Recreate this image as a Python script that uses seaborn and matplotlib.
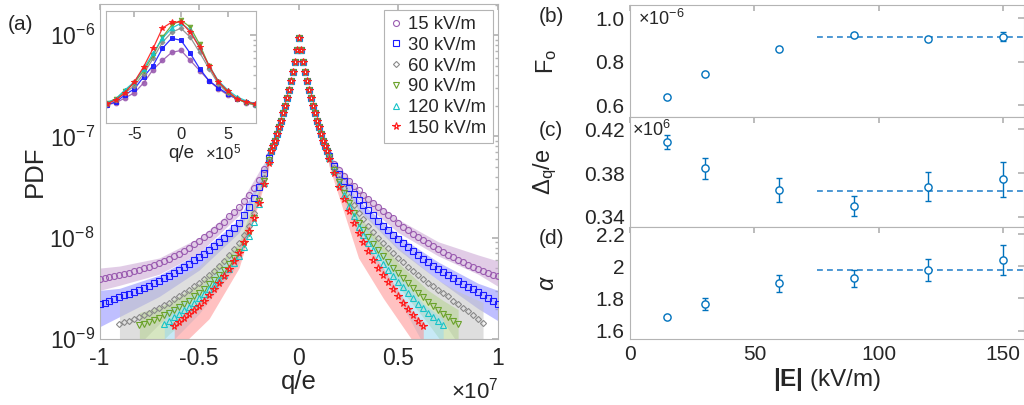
import numpy as np
import matplotlib
matplotlib.use("Agg")
import matplotlib.pyplot as plt
import seaborn as sns
from matplotlib.ticker import FuncFormatter, LogLocator, NullFormatter

# ---------------- data (log10 of PDF) ----------------
# grid of |q| in units of 1e6: fine core near the peak, coarser tails
q_core = np.arange(0, 1.45, 0.1)
q_tail = np.arange(1.5, 10.01, 0.25)

core_log = [-6.03, -6.15, -6.26, -6.36, -6.45, -6.54, -6.62, -6.70, -6.77, -6.85,
            -6.91, -6.98, -7.04, -7.09, -7.14]

# tails from |q| = 1.5e6 outward, R = positive q, L = negative q
pdf15_R = [-7.18, -7.27, -7.33, -7.39, -7.44, -7.49, -7.53, -7.58, -7.62, -7.66, -7.70, -7.74,
           -7.78, -7.81, -7.85, -7.89, -7.92, -7.96, -7.99, -8.02, -8.05, -8.08, -8.11, -8.14,
           -8.17, -8.19, -8.22, -8.24, -8.27, -8.29, -8.31, -8.33, -8.35, -8.37, -8.38]
pdf15_L = [-7.19, -7.32, -7.43, -7.51, -7.58, -7.64, -7.70, -7.75, -7.79, -7.84, -7.88, -7.92,
           -7.96, -7.99, -8.03, -8.06, -8.10, -8.13, -8.16, -8.18, -8.21, -8.23, -8.25, -8.27,
           -8.29, -8.30, -8.32, -8.33, -8.35, -8.36, -8.37, -8.38, -8.39, -8.40, -8.41]
pdf30_R = [-7.19, -7.29, -7.37, -7.44, -7.51, -7.57, -7.63, -7.68, -7.73, -7.78, -7.83, -7.88,
           -7.92, -7.97, -8.01, -8.05, -8.09, -8.13, -8.17, -8.21, -8.24, -8.28, -8.31, -8.34,
           -8.37, -8.40, -8.43, -8.46, -8.49, -8.51, -8.54, -8.57, -8.60, -8.62, -8.65]
pdf30_L = [-7.21, -7.36, -7.50, -7.61, -7.70, -7.78, -7.85, -7.90, -7.95, -8.00, -8.04, -8.08,
           -8.12, -8.16, -8.19, -8.22, -8.26, -8.29, -8.32, -8.35, -8.38, -8.40, -8.43, -8.45,
           -8.48, -8.50, -8.52, -8.54, -8.56, -8.57, -8.59, -8.61, -8.62, -8.64, -8.65]
pdf60_R = [-7.20, -7.31, -7.42, -7.51, -7.60, -7.68, -7.76, -7.82, -7.88, -7.94, -8.00, -8.05,
           -8.10, -8.15, -8.20, -8.24, -8.29, -8.33, -8.37, -8.41, -8.45, -8.48, -8.52, -8.55,
           -8.58, -8.62, -8.65, -8.69, -8.72, -8.76, -8.80, -8.84]
pdf60_L = [-7.22, -7.41, -7.62, -7.76, -7.88, -7.97, -8.05, -8.11, -8.17, -8.23, -8.28, -8.33,
           -8.37, -8.41, -8.45, -8.48, -8.52, -8.55, -8.58, -8.61, -8.64, -8.66, -8.69, -8.71,
           -8.74, -8.76, -8.78, -8.80, -8.82, -8.83, -8.85]
pdf90_R = [-7.20, -7.33, -7.45, -7.56, -7.66, -7.76, -7.85, -7.92, -7.99, -8.06, -8.12, -8.18,
           -8.24, -8.30, -8.35, -8.40, -8.45, -8.50, -8.55, -8.59, -8.63, -8.67, -8.71, -8.75,
           -8.78, -8.82, -8.85]
pdf90_L = [-7.23, -7.44, -7.64, -7.81, -7.95, -8.06, -8.14, -8.20, -8.26, -8.32, -8.37, -8.42,
           -8.46, -8.51, -8.55, -8.58, -8.62, -8.65, -8.68, -8.71, -8.74, -8.76, -8.79, -8.81,
           -8.83, -8.85, -8.86]
pdf120_R = [-7.21, -7.34, -7.47, -7.58, -7.69, -7.79, -7.89, -7.97, -8.05, -8.12, -8.19, -8.26,
            -8.32, -8.38, -8.44, -8.49, -8.55, -8.60, -8.65, -8.69, -8.74, -8.78, -8.82, -8.86]
pdf120_L = [-7.24, -7.46, -7.67, -7.84, -7.98, -8.09, -8.18, -8.25, -8.31, -8.37, -8.42, -8.47,
            -8.51, -8.56, -8.60, -8.64, -8.68, -8.71, -8.75, -8.78, -8.82, -8.85]
pdf150_R = [-7.22, -7.36, -7.50, -7.62, -7.74, -7.85, -7.95, -8.04, -8.13, -8.22, -8.30, -8.37,
            -8.44, -8.51, -8.58, -8.64, -8.70, -8.76, -8.82, -8.87]
pdf150_L = [-7.26, -7.47, -7.66, -7.81, -7.93, -8.04, -8.15, -8.23, -8.31, -8.38, -8.45, -8.51,
            -8.57, -8.62, -8.67, -8.71, -8.75, -8.79, -8.83, -8.87]

# shaded bands (|q| in 1e6, log10 lower / upper)
band15_q = [1.5, 3, 5, 7, 9, 10]
band15_R_lo = [-7.22, -7.62, -7.95, -8.18, -8.36, -8.48]
band15_R_hi = [-7.17, -7.52, -7.82, -8.04, -8.17, -8.23]
band15_L_lo = [-7.23, -7.78, -8.15, -8.36, -8.47, -8.52]
band15_L_hi = [-7.18, -7.68, -8.00, -8.20, -8.28, -8.30]
band30_q = [1.5, 3, 5, 7, 9, 10]
band30_R_lo = [-7.24, -7.73, -8.12, -8.42, -8.70, -8.82]
band30_R_hi = [-7.19, -7.63, -7.98, -8.24, -8.45, -8.52]
band30_L_lo = [-7.26, -7.95, -8.32, -8.58, -8.78, -8.88]
band30_L_hi = [-7.21, -7.82, -8.15, -8.37, -8.50, -8.52]
band60_R_q = [1.5, 3, 5, 7, 8, 9.25]
band60_R_lo = [-7.25, -7.85, -8.35, -8.75, -9.05, -9.6]
band60_R_hi = [-7.20, -7.70, -8.10, -8.42, -8.53, -8.64]
band60_L_q = [1.5, 3, 5, 7, 8, 9]
band60_L_lo = [-7.27, -8.10, -8.55, -8.85, -9.05, -9.6]
band60_L_hi = [-7.22, -7.88, -8.28, -8.48, -8.55, -8.63]
band90_q = [1.5, 3, 5, 6.5, 7.25, 8]
band90_R_lo = [-7.25, -7.92, -8.48, -8.85, -9.05, -9.6]
band90_R_hi = [-7.20, -7.78, -8.25, -8.52, -8.62, -8.71]
band90_L_lo = [-7.28, -8.20, -8.70, -8.95, -9.10, -9.6]
band90_L_hi = [-7.23, -8.05, -8.45, -8.64, -8.70, -8.74]
band120_R_q = [1.5, 3, 5, 6.25, 7.25]
band120_R_lo = [-7.26, -7.98, -8.60, -9.05, -9.6]
band120_R_hi = [-7.21, -7.82, -8.35, -8.65, -8.80]
band120_L_q = [1.5, 3, 5, 6.25, 6.75]
band120_L_lo = [-7.29, -8.25, -8.75, -9.00, -9.6]
band120_L_hi = [-7.24, -8.10, -8.52, -8.68, -8.72]
band150_R_q = [1.5, 3, 4.25, 5.65, 6.25]
band150_R_lo = [-7.28, -8.20, -8.60, -9.00, -9.6]
band150_R_hi = [-7.22, -7.93, -8.30, -8.72, -8.84]
band150_L_q = [1.5, 3, 4.5, 5.55, 6.25]
band150_L_lo = [-7.32, -8.30, -8.80, -9.00, -9.6]
band150_L_hi = [-7.26, -8.10, -8.55, -8.72, -8.85]

# inset (q in 1e5, log10 PDF)
inset_q = [-8, -7, -6, -5, -4, -3, -2, -1, 0, 1, 2, 3, 4, 5, 6, 7, 8]
inset15 = [-6.69, -6.67, -6.62, -6.57, -6.47, -6.34, -6.25, -6.17, -6.15, -6.25, -6.35, -6.45, -6.53, -6.59, -6.63, -6.67, -6.69]
inset30 = [-6.69, -6.66, -6.59, -6.53, -6.41, -6.30, -6.13, -6.03, -6.05, -6.18, -6.33, -6.45, -6.52, -6.58, -6.63, -6.66, -6.68]
inset60 = [-6.68, -6.64, -6.57, -6.50, -6.38, -6.23, -6.07, -5.97, -5.93, -6.02, -6.17, -6.33, -6.48, -6.57, -6.63, -6.66, -6.68]
inset90 = [-6.67, -6.63, -6.55, -6.47, -6.35, -6.20, -6.02, -5.90, -5.85, -5.92, -6.09, -6.30, -6.46, -6.56, -6.63, -6.67, -6.69]
inset120 = [-6.67, -6.63, -6.54, -6.46, -6.33, -6.18, -6.03, -5.93, -5.88, -5.95, -6.12, -6.30, -6.45, -6.54, -6.61, -6.65, -6.68]
inset150 = [-6.68, -6.64, -6.57, -6.46, -6.31, -6.13, -5.93, -5.87, -5.87, -5.97, -6.12, -6.30, -6.46, -6.55, -6.63, -6.66, -6.68]

# right panels
E_field = [15, 30, 60, 90, 120, 150]
F_o = [0.638, 0.743, 0.859, 0.922, 0.904, 0.914]          # x 1e-6
F_o_err = [0.005, 0.006, 0.006, 0.008, 0.010, 0.020]
delta_q = [0.4087, 0.3842, 0.3646, 0.3498, 0.3676, 0.3744]  # x 1e6
delta_q_err = [0.0064, 0.010, 0.011, 0.009, 0.013, 0.016]
alpha = [1.683, 1.764, 1.895, 1.926, 1.978, 2.039]
alpha_err = [0.005, 0.037, 0.052, 0.052, 0.070, 0.095]
F_o_fit, delta_q_fit, alpha_fit = 0.913, 0.3634, 1.98

labels = ['15 kV/m', '30 kV/m', '60 kV/m', '90 kV/m', '120 kV/m', '150 kV/m']
colors = ['#9a5bb0', '#1a1aff', '#8a8a8a', '#6aa22a', '#17c3c8', '#ff1a1a']
band_colors = ['#c9a3d3', '#8c8cff', '#c4c4c4', '#b5d38f', '#9ad8ef', '#ff8f8f']
markers = ['o', 's', 'D', 'v', '^', '*']
msizes = [4.3, 3.7, 3.1, 4.1, 4.1, 5.3]

tails = [(pdf15_L, pdf15_R), (pdf30_L, pdf30_R), (pdf60_L, pdf60_R),
         (pdf90_L, pdf90_R), (pdf120_L, pdf120_R), (pdf150_L, pdf150_R)]
bands = [(band15_q, band15_L_lo, band15_L_hi, band15_q, band15_R_lo, band15_R_hi),
         (band30_q, band30_L_lo, band30_L_hi, band30_q, band30_R_lo, band30_R_hi),
         (band60_L_q, band60_L_lo, band60_L_hi, band60_R_q, band60_R_lo, band60_R_hi),
         (band90_q, band90_L_lo, band90_L_hi, band90_q, band90_R_lo, band90_R_hi),
         (band120_L_q, band120_L_lo, band120_L_hi, band120_R_q, band120_R_lo, band120_R_hi),
         (band150_L_q, band150_L_lo, band150_L_hi, band150_R_q, band150_R_lo, band150_R_hi)]
insets = [inset15, inset30, inset60, inset90, inset120, inset150]

# ---------------- style ----------------
sns.set_theme(style="white")
plt.rcParams['font.family'] = ['Liberation Sans', 'DejaVu Sans']
plt.rcParams['mathtext.fontset'] = 'custom'
plt.rcParams['mathtext.rm'] = 'Liberation Sans'
plt.rcParams['mathtext.it'] = 'Liberation Sans:italic'
plt.rcParams['mathtext.bf'] = 'Liberation Sans:bold'
plt.rcParams['axes.unicode_minus'] = False
spine_c = '#b4b4b4'
txt_c = '#262626'
blue = '#0072BD'


def frame(ax):
    for s in ax.spines.values():
        s.set_color(spine_c)
        s.set_linewidth(0.8)
    ax.tick_params(which='both', direction='in', top=True, right=True, color=spine_c,
                   labelcolor=txt_c)
    ax.tick_params(which='major', length=4)
    ax.tick_params(which='minor', length=2.5)


fig = plt.figure(figsize=(10.24, 4.05), dpi=100)

# ---------------- (a) main PDF ----------------
ax = fig.add_axes([0.0972, 0.163, 0.3891, 0.827])
for (tl, tr), bd, c, bc in zip(tails, bands, colors, band_colors):
    qL, loL, hiL, qR, loR, hiR = bd
    ax.fill_between(-np.array(qL) * 1e6, 10 ** np.array(loL), 10 ** np.array(hiL),
                    color=bc, alpha=0.55, lw=0, zorder=1)
    ax.fill_between(np.array(qR) * 1e6, 10 ** np.array(loR), 10 ** np.array(hiR),
                    color=bc, alpha=0.55, lw=0, zorder=1)

for (tl, tr), c, m, ms, lab in zip(tails, colors, markers, msizes, labels):
    xr = np.concatenate([q_core, q_tail[:len(tr)]])
    yr = np.concatenate([core_log, tr])
    xl = -np.concatenate([q_core[1:], q_tail[:len(tl)]])
    yl = np.concatenate([core_log[1:], tl])
    x = np.concatenate([xl[::-1], xr]) * 1e6
    y = 10 ** np.concatenate([yl[::-1], yr])
    ax.plot(x, y, ls='none', marker=m, ms=ms, mfc='none', mec=c, mew=0.8, label=lab, zorder=3)

ax.set_yscale('log')
ax.set_xlim(-1e7, 1e7)
ax.set_ylim(1e-9, 2.03e-6)
ax.set_xticks([-1e7, -5e6, 0, 5e6, 1e7])
ax.xaxis.set_major_formatter(FuncFormatter(lambda v, p: f'{v / 1e7:g}'))
ax.yaxis.set_minor_locator(LogLocator(base=10, subs=np.arange(2, 10)))
ax.yaxis.set_minor_formatter(NullFormatter())
frame(ax)
ax.tick_params(labelsize=16.5)
ax.tick_params(axis='x', pad=6)
ax.set_xlabel('q/e', fontsize=18.5, color=txt_c, labelpad=0)
ax.set_ylabel('PDF', fontsize=18.5, color=txt_c, labelpad=2)
fig.text(0.487, 0.035, r'$\times10^{7}$', ha='right', va='center', fontsize=16, color=txt_c)
leg = ax.legend(loc='upper right', bbox_to_anchor=(0.988, 0.983), fontsize=13.3, frameon=True,
                fancybox=False, framealpha=1, edgecolor=spine_c, handlelength=0.6,
                handletextpad=0.4, labelspacing=0.2, borderpad=0.35, borderaxespad=0)
leg.get_frame().set_linewidth(0.8)
for t in leg.get_texts():
    t.set_color(txt_c)

# ---------------- inset ----------------
axin = fig.add_axes([106 / 1024, 1 - 123 / 405, 150 / 1024, 112 / 405])
for vals, c, m, ms in zip(insets, colors, markers, msizes):
    sns.lineplot(x=np.array(inset_q) * 1e5, y=10 ** np.array(vals), ax=axin, color=c, lw=0.9,
                 marker=m, markersize=ms * 0.8, markerfacecolor=c, markeredgecolor=c,
                 markeredgewidth=0.7, alpha=0.9, legend=False)
for ln in axin.lines:
    ln.set_markerfacecolor(matplotlib.colors.to_rgba(ln.get_color(), 0.4))
axin.set_yscale('log')
axin.set_xlim(-8.06e5, 8.06e5)
axin.set_ylim(1.35e-7, 1.74e-6)
axin.set_xticks([-5e5, 0, 5e5])
axin.xaxis.set_major_formatter(FuncFormatter(lambda v, p: f'{v / 1e5:g}'))
axin.yaxis.set_major_formatter(NullFormatter())
axin.yaxis.set_minor_formatter(NullFormatter())
axin.set_ylabel('')
frame(axin)
axin.tick_params(labelsize=12, pad=3)
axin.set_xlabel('')
fig.text(181 / 1024, 1 - 153 / 405, 'q/e', ha='center', va='center', fontsize=13.5, color=txt_c)
fig.text(205 / 1024, 1 - 152 / 405, r'$\times10^{5}$', ha='left', va='center', fontsize=12,
         color=txt_c)

# ---------------- (b)-(d) ----------------
right_axes = []
boxes = [[0.6152, 0.7111, 0.3848, 0.2765], [0.6152, 0.4395, 0.3848, 0.2716],
         [0.6152, 0.163, 0.3848, 0.2765]]
series = [(F_o, F_o_err, F_o_fit, (0.545, 1.06), [0.6, 0.8, 1.0], ['0.6', '0.8', '1.0']),
          (delta_q, delta_q_err, delta_q_fit, (0.3306, 0.4313), [0.34, 0.38, 0.42],
           ['0.34', '0.38', '0.42']),
          (alpha, alpha_err, alpha_fit, (1.548, 2.245), [1.6, 1.8, 2.0, 2.2],
           ['1.6', '1.8', '2', '2.2'])]
for box, (vals, err, fit, ylim, yt, ytl) in zip(boxes, series):
    a = fig.add_axes(box)
    a.errorbar(E_field, vals, yerr=err, fmt='o', ms=5.2, mfc='white', mec=blue, mew=1.0,
               ecolor=blue, elinewidth=1.0, capsize=2.2, capthick=1.0, zorder=3)
    a.plot([75, 160], [fit, fit], ls='--', color='#2f86cc', lw=1.2, dashes=(3.5, 2.5))
    a.set_xlim(0, 158.4)
    a.set_ylim(*ylim)
    a.set_xticks([0, 50, 100, 150])
    a.set_yticks(yt)
    a.set_yticklabels(ytl)
    frame(a)
    a.tick_params(labelsize=15, pad=4)
    right_axes.append(a)

axb, axc, axd = right_axes
axb.tick_params(labelbottom=False)
axc.tick_params(labelbottom=False)
axd.set_xlabel(r'$\mathbf{|E|}$ (kV/m)', fontsize=17.5, color=txt_c, labelpad=2)
axb.set_ylabel(r'F$_\mathrm{o}$', fontsize=17, color=txt_c)
axc.set_ylabel(r'$\Delta_\mathrm{q}$/e', fontsize=17, color=txt_c)
axd.set_ylabel(r'$\alpha$', fontsize=17, color=txt_c)
for a in right_axes:
    a.yaxis.set_label_coords(-0.18, 0.5)

fig.text(638 / 1024, 1 - 19 / 405, r'$\times10^{-6}$', ha='left', va='center', fontsize=13,
         color=txt_c)
fig.text(632 / 1024, 1 - 130 / 405, r'$\times10^{6}$', ha='left', va='center', fontsize=13,
         color=txt_c)

# panel letters
fig.text(8 / 1024, 1 - 24 / 405, '(a)', ha='left', va='center', fontsize=15, color=txt_c)
fig.text(539 / 1024, 1 - 16 / 405, '(b)', ha='left', va='center', fontsize=15, color=txt_c)
fig.text(539 / 1024, 1 - 130 / 405, '(c)', ha='left', va='center', fontsize=15, color=txt_c)
fig.text(539 / 1024, 1 - 238 / 405, '(d)', ha='left', va='center', fontsize=15, color=txt_c)

fig.savefig('out.png', dpi=100)
